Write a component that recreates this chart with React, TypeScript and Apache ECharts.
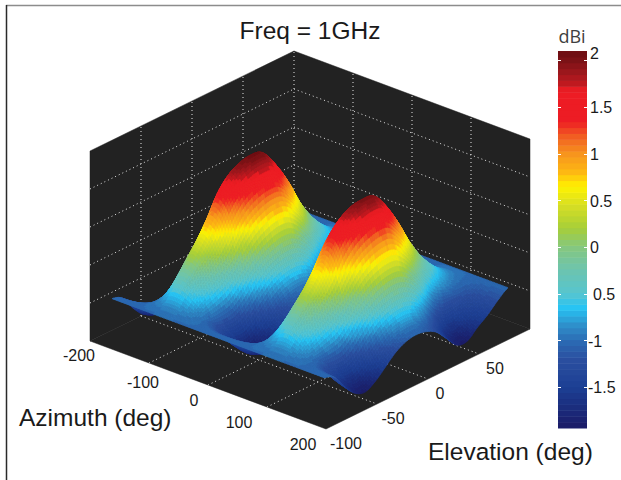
import React, { useEffect, useRef } from "react";
import * as echarts from "echarts";

// Axis values
const azimuths = [-180,-165,-150,-135,-120,-105,-90,-75,-60,-45,-30,-15,0,15,30,45,60,75,90,105,120,135,150,165,180];
const elevations = [-90,-80,-70,-60,-50,-40,-30,-20,-10,0,10,20,30,40,50,60,70,80,90];
const azTicks = [-200,-100,0,100,200];
const elTicks = [-100,-50,0,50,100];
const zTicks = [-2.1,-1.1,-0.1,0.9,1.9,2.9];
const azLabels = ["-200","-100","0","100","200"];
const elLabels = ["-100","-50","0","50"];
const barTicks = [2,1.5,1,0.5,0,-0.5,-1,-1.5];
const barLabels = ["2","1.5","1","0.5","0","0.5","-1","-1.5"];

// Gain (dBi): one row per azimuth, one column per elevation
const gain = [
[-1,-1.12,-1.5,-1.8,-1.9,-1.75,-1.5,-1.25,-1.1,-1.05,-1.1,-1.25,-1.55,-1.85,-1.88,-1.65,-1.45,-1.2,-1],
[-1,-1.11,-1.46,-1.7,-1.8,-1.64,-1.38,-1.13,-.98,-.93,-.98,-1.14,-1.44,-1.76,-1.8,-1.6,-1.42,-1.19,-1],
[-1,-1.07,-1.3,-1.46,-1.49,-1.3,-1.01,-.75,-.59,-.53,-.58,-.77,-1.1,-1.45,-1.56,-1.44,-1.32,-1.15,-1],
[-1,-1,-1.05,-1.05,-.99,-.74,-.4,-.12,.04,.11,.07,-.17,-.54,-.96,-1.17,-1.17,-1.16,-1.09,-1],
[-1,-.91,-.72,-.53,-.34,-.03,.39,.68,.85,.93,.9,.6,.17,-.32,-.66,-.84,-.96,-1,-1],
[-1,-.82,-.35,.08,.46,.9,1.42,1.74,1.9,1.96,1.9,1.52,1.0,.41,-.07,-.45,-.73,-.91,-1],
[-1,-.81,-.34,.09,.47,.92,1.43,1.75,1.91,1.97,1.92,1.55,1.05,.43,-.06,-.44,-.72,-.91,-1],
[-1,-.86,-.51,-.2,.11,.5,.98,1.29,1.44,1.5,1.45,1.09,.62,.08,-.34,-.62,-.83,-.95,-1],
[-1,-.92,-.75,-.59,-.41,-.11,.3,.59,.76,.84,.8,.52,.09,-.39,-.71,-.87,-.98,-1.01,-1],
[-1,-1,-1.07,-1.08,-1.01,-.77,-.43,-.15,.01,.08,.04,-.2,-.57,-.98,-1.18,-1.19,-1.17,-1.09,-1],
[-1,-1.07,-1.3,-1.46,-1.49,-1.3,-1.01,-.75,-.59,-.53,-.58,-.77,-1.1,-1.45,-1.56,-1.44,-1.32,-1.15,-1],
[-1,-1.11,-1.47,-1.73,-1.83,-1.67,-1.41,-1.16,-1.01,-.96,-1.01,-1.16,-1.47,-1.78,-1.82,-1.61,-1.43,-1.19,-1],
[-1,-1.12,-1.5,-1.8,-1.9,-1.75,-1.5,-1.25,-1.1,-1.05,-1.1,-1.25,-1.55,-1.85,-1.88,-1.65,-1.45,-1.2,-1],
[-1,-1.11,-1.46,-1.7,-1.8,-1.64,-1.38,-1.13,-.98,-.93,-.98,-1.14,-1.44,-1.76,-1.8,-1.6,-1.42,-1.19,-1],
[-1,-1.08,-1.33,-1.5,-1.56,-1.38,-1.09,-.83,-.68,-.62,-.67,-.85,-1.18,-1.52,-1.62,-1.47,-1.34,-1.16,-1],
[-1,-1.02,-1.13,-1.16,-1.13,-.9,-.57,-.3,-.14,-.07,-.12,-.34,-.7,-1.1,-1.28,-1.25,-1.21,-1.1,-1],
[-1,-.93,-.8,-.67,-.51,-.21,.18,.47,.64,.72,.68,.4,-.01,-.49,-.79,-.92,-1.01,-1.03,-1],
[-1,-.85,-.48,-.14,.18,.58,1.07,1.37,1.53,1.6,1.55,1.17,.7,.15,-.28,-.59,-.81,-.94,-1],
[-1,-.8,-.3,.15,.5,.95,1.45,1.78,1.95,1.99,1.95,1.6,1.1,.5,0,-.4,-.7,-.9,-1],
[-1,-.83,-.42,-.05,.3,.72,1.22,1.52,1.68,1.75,1.7,1.32,.84,.27,-.19,-.52,-.77,-.93,-1],
[-1,-.9,-.68,-.48,-.27,.05,.47,.77,.94,1.02,.99,.69,.25,-.25,-.6,-.8,-.94,-1,-1],
[-1,-.98,-.99,-.95,-.87,-.61,-.25,.03,.19,.26,.22,-.02,-.41,-.84,-1.07,-1.11,-1.13,-1.07,-1],
[-1,-1.06,-1.26,-1.4,-1.42,-1.22,-.92,-.66,-.5,-.44,-.49,-.68,-1.02,-1.38,-1.5,-1.4,-1.3,-1.14,-1],
[-1,-1.1,-1.43,-1.67,-1.76,-1.59,-1.33,-1.07,-.92,-.87,-.92,-1.08,-1.39,-1.71,-1.77,-1.57,-1.4,-1.18,-1],
[-1,-1.12,-1.5,-1.8,-1.9,-1.75,-1.5,-1.25,-1.1,-1.05,-1.1,-1.25,-1.55,-1.85,-1.88,-1.65,-1.45,-1.2,-1],
];

// Colour scale
const colorValues = [2.1,2.0,1.85,1.75,1.68,1.35,1.2,1.0,0.8,0.65,0.45,0.2,0,-0.25,-0.5,-0.65,-0.85,-1.0,-1.2,-1.5,-1.75,-1.94];
const colorStops = ["#6b0e12","#7c1216","#a3181d","#c0191f","#ed1c24","#ed1c24","#f15a22","#f7941d","#fdb913","#fff200","#d7df23","#a6ce39","#85c77f","#6cc4b0","#56c5d0","#27c4f4","#2f8cc8","#2b6cb4","#2b4fa0","#1c3f94","#1b2a7a","#1b1b66"];
const BANDS = 64;
const BAR_MIN = -1.94, BAR_MAX = 2.1;

const hexRgb = (h: string) => [1, 3, 5].map((i) => parseInt(h.slice(i, i + 2), 16));
function bandColor(z: number) {
  const step = (BAR_MAX - BAR_MIN) / BANDS;
  const k = Math.max(0, Math.min(BANDS - 1, Math.floor((z - BAR_MIN) / step)));
  const v = BAR_MIN + (k + 0.5) * step;
  let i = 0;
  while (i < colorValues.length - 2 && v < colorValues[i + 1]) i++;
  const t = (colorValues[i] - v) / (colorValues[i] - colorValues[i + 1]);
  const a = hexRgb(colorStops[i]), b = hexRgb(colorStops[i + 1]);
  return `rgb(${a.map((c, n) => Math.round(c + (b[n] - c) * t)).join(",")})`;
}

// Shading between the read grid values (like MATLAB's "shading interp")
const cr = (p0: number, p1: number, p2: number, p3: number, t: number) =>
  0.5 * (2 * p1 + (p2 - p0) * t + (2 * p0 - 5 * p1 + 4 * p2 - p3) * t * t + (3 * p1 - p0 - 3 * p2 + p3) * t * t * t);
function sample(fi: number, fj: number) {
  const n = azimuths.length - 1, m = elevations.length - 1;
  const i = Math.min(Math.floor(fi), n - 1), j = Math.min(Math.floor(fj), m - 1);
  const rowAt = (r: number) => {
    const row = gain[Math.max(0, Math.min(n, r))];
    const c = (q: number) => row[Math.max(0, Math.min(m, q))];
    return cr(c(j - 1), c(j), c(j + 1), c(j + 2), fj - j);
  };
  return cr(rowAt(i - 1), rowAt(i), rowAt(i + 1), rowAt(i + 2), fi - i);
}

const SUB = 6;
const Z_MIN = zTicks[0], Z_MAX = zTicks[zTicks.length - 1];
const AZ_DX = 236, AZ_DY = 88, EL_DX = 204, EL_DY = 100;

function project(api: any, az: number, el: number, z: number) {
  const [px, py] = api.coord([az, z]);
  const a = (az + 200) / 400, e = (el + 100) / 200;
  return [px + EL_DX * e, py + AZ_DY * a - EL_DY * e];
}

const TEXT = "'Liberation Sans', Arial, sans-serif";
const tickText = { fontFamily: TEXT, fontSize: 16, fill: "#1a1a1a", textAlign: "center", textVerticalAlign: "middle" };

const azLabelPos = [[79,355],[143,382],[194,400],[239,422],[303,444]];
const elLabelPos = [[346,443],[393,418],[440,393],[495,368]];

const cells: number[][] = [];
for (let j = elevations.length - 2; j >= 0; j--) {
  for (let i = 0; i < azimuths.length - 1; i++) cells.push([i, j]);
}

export default function App() {
  const ref = useRef<HTMLDivElement>(null);
  useEffect(() => {
    document.body.style.margin = "0";
    const chart = echarts.init(ref.current!, null, { renderer: "svg" });
    const hiddenX = (min: number, max: number, gridIndex: number) => ({ type: "value", min, max, gridIndex, show: false });
    chart.setOption({
      animation: false,
      backgroundColor: "#ffffff",
      grid: [
        { left: 90, top: 151, width: AZ_DX, height: 190, show: false },
        { left: 558, top: 51, width: 29, height: 377, show: false },
      ],
      xAxis: [hiddenX(-200, 200, 0), hiddenX(0, 1, 1)],
      yAxis: [hiddenX(Z_MIN, Z_MAX, 0), hiddenX(BAR_MIN, BAR_MAX, 1)],
      graphic: [
        { type: "line", silent: true, shape: { x1: 6, y1: 5.5, x2: 621, y2: 5.5 }, style: { stroke: "#8c8c8c", lineWidth: 1.5 } },
        { type: "line", silent: true, shape: { x1: 6.5, y1: 5, x2: 6.5, y2: 480 }, style: { stroke: "#2a2a2a", lineWidth: 1.5 } },
        { type: "text", x: 310, y: 30, style: { text: "Freq = 1GHz", fontFamily: TEXT, fontSize: 24.5, fill: "#1a1a1a", textAlign: "center", textVerticalAlign: "middle" } },
        { type: "text", x: 572, y: 36, style: { text: "dBi", fontFamily: "'Open Sans', sans-serif", fontSize: 18, fill: "#404040", textAlign: "center", textVerticalAlign: "middle" } },
        { type: "text", x: 19, y: 417, style: { text: "Azimuth (deg)", fontFamily: TEXT, fontSize: 24.5, fill: "#1a1a1a", textAlign: "left", textVerticalAlign: "middle" } },
        { type: "text", x: 428, y: 451, style: { text: "Elevation (deg)", fontFamily: TEXT, fontSize: 24.5, fill: "#1a1a1a", textAlign: "left", textVerticalAlign: "middle" } },
        ...azLabels.map((text, i) => ({ type: "text", x: azLabelPos[i][0], y: azLabelPos[i][1], style: { ...tickText, text } })),
        ...elLabels.map((text, i) => ({ type: "text", x: elLabelPos[i][0], y: elLabelPos[i][1], style: { ...tickText, text } })),
      ],
      series: [
        {
          name: "walls",
          type: "custom",
          silent: true,
          xAxisIndex: 0,
          yAxisIndex: 0,
          data: [[0, 0]],
          renderItem: (_p: any, api: any) => {
            const P = (a: number, e: number, z: number) => project(api, a, e, z);
            const wall = { fill: "#222222", stroke: "#222222", lineWidth: 0.5 };
            const dot = { stroke: "#e6e6e6", lineWidth: 1, lineDash: [1, 3], fill: "none" };
            const line = (a: number[], b: number[]) => ({ type: "line", shape: { x1: a[0], y1: a[1], x2: b[0], y2: b[1] }, style: dot });
            const kids: any[] = [
              { type: "polygon", shape: { points: [P(-200,-100,Z_MIN), P(-200,100,Z_MIN), P(-200,100,Z_MAX), P(-200,-100,Z_MAX)] }, style: wall },
              { type: "polygon", shape: { points: [P(-200,100,Z_MIN), P(200,100,Z_MIN), P(200,100,Z_MAX), P(-200,100,Z_MAX)] }, style: wall },
              { type: "polygon", shape: { points: [P(-200,-100,Z_MIN), P(200,-100,Z_MIN), P(200,100,Z_MIN), P(-200,100,Z_MIN)] }, style: wall },
            ];
            for (const z of zTicks.slice(1, -1)) {
              kids.push(line(P(-200,-100,z), P(-200,100,z)), line(P(-200,100,z), P(200,100,z)));
            }
            for (const e of elTicks.slice(1, -1)) {
              kids.push(line(P(-200,e,Z_MIN), P(-200,e,Z_MAX)), line(P(-200,e,Z_MIN), P(200,e,Z_MIN)));
            }
            for (const a of azTicks.slice(1, -1)) {
              kids.push(line(P(a,100,Z_MIN), P(a,100,Z_MAX)), line(P(a,-100,Z_MIN), P(a,100,Z_MIN)));
            }
            kids.push(line(P(-200,100,Z_MIN), P(-200,100,Z_MAX)));
            return { type: "group", children: kids };
          },
        },
        {
          name: "surface",
          type: "custom",
          silent: true,
          xAxisIndex: 0,
          yAxisIndex: 0,
          progressive: 0,
          data: cells,
          renderItem: (_p: any, api: any) => {
            const i = api.value(0), j = api.value(1);
            const kids: any[] = [];
            const daz = azimuths[i + 1] - azimuths[i], del = elevations[j + 1] - elevations[j];
            for (let v = SUB - 1; v >= 0; v--) {
              for (let u = 0; u < SUB; u++) {
                const corner = (uu: number, vv: number) => {
                  const z = sample(i + uu / SUB, j + vv / SUB);
                  return { z, p: project(api, azimuths[i] + (daz * uu) / SUB, elevations[j] + (del * vv) / SUB, z) };
                };
                const c = [corner(u, v), corner(u + 1, v), corner(u + 1, v + 1), corner(u, v + 1)];
                const fill = bandColor((c[0].z + c[1].z + c[2].z + c[3].z) / 4);
                kids.push({ type: "polygon", shape: { points: c.map((q) => q.p) }, style: { fill, stroke: fill, lineWidth: 0.7 } });
              }
            }
            return { type: "group", children: kids };
          },
        },
        {
          name: "colorbar",
          type: "custom",
          silent: true,
          xAxisIndex: 1,
          yAxisIndex: 1,
          data: Array.from({ length: BANDS }, (_, k) => [k]),
          renderItem: (_p: any, api: any) => {
            const k = api.value(0);
            const step = (BAR_MAX - BAR_MIN) / BANDS;
            const a = api.coord([0, BAR_MIN + k * step]), b = api.coord([1, BAR_MIN + (k + 1) * step]);
            return { type: "rect", shape: { x: a[0], y: b[1], width: b[0] - a[0], height: a[1] - b[1] + 0.5 }, style: { fill: bandColor(BAR_MIN + (k + 0.5) * step) } };
          },
        },
        {
          name: "colorbarTicks",
          type: "custom",
          silent: true,
          xAxisIndex: 1,
          yAxisIndex: 1,
          data: barTicks.map((v, i) => [i, v]),
          renderItem: (_p: any, api: any) => {
            const idx = api.value(0), v = api.value(1);
            const a = api.coord([0, v]), b = api.coord([1, v]);
            const y = Math.round(a[1]) + 0.5;
            const mk = { stroke: "#ffffff", lineWidth: 1 };
            const dx = barLabels[idx].startsWith("-") ? 1 : idx === 5 ? 6 : 3;
            return {
              type: "group",
              children: [
                { type: "line", shape: { x1: a[0], y1: y, x2: a[0] + 3, y2: y }, style: mk },
                { type: "line", shape: { x1: b[0] - 3, y1: y, x2: b[0], y2: y }, style: mk },
                { type: "text", x: b[0] + dx, y: idx === 0 ? a[1] - 7 : a[1] + 1, style: { text: barLabels[idx], fontFamily: TEXT, fontSize: 16, fill: "#1a1a1a", textAlign: "left", textVerticalAlign: "middle" } },
              ],
            };
          },
        },
      ],
    });
    return () => chart.dispose();
  }, []);
  return <div ref={ref} style={{ width: 621, height: 480 }} />;
}
